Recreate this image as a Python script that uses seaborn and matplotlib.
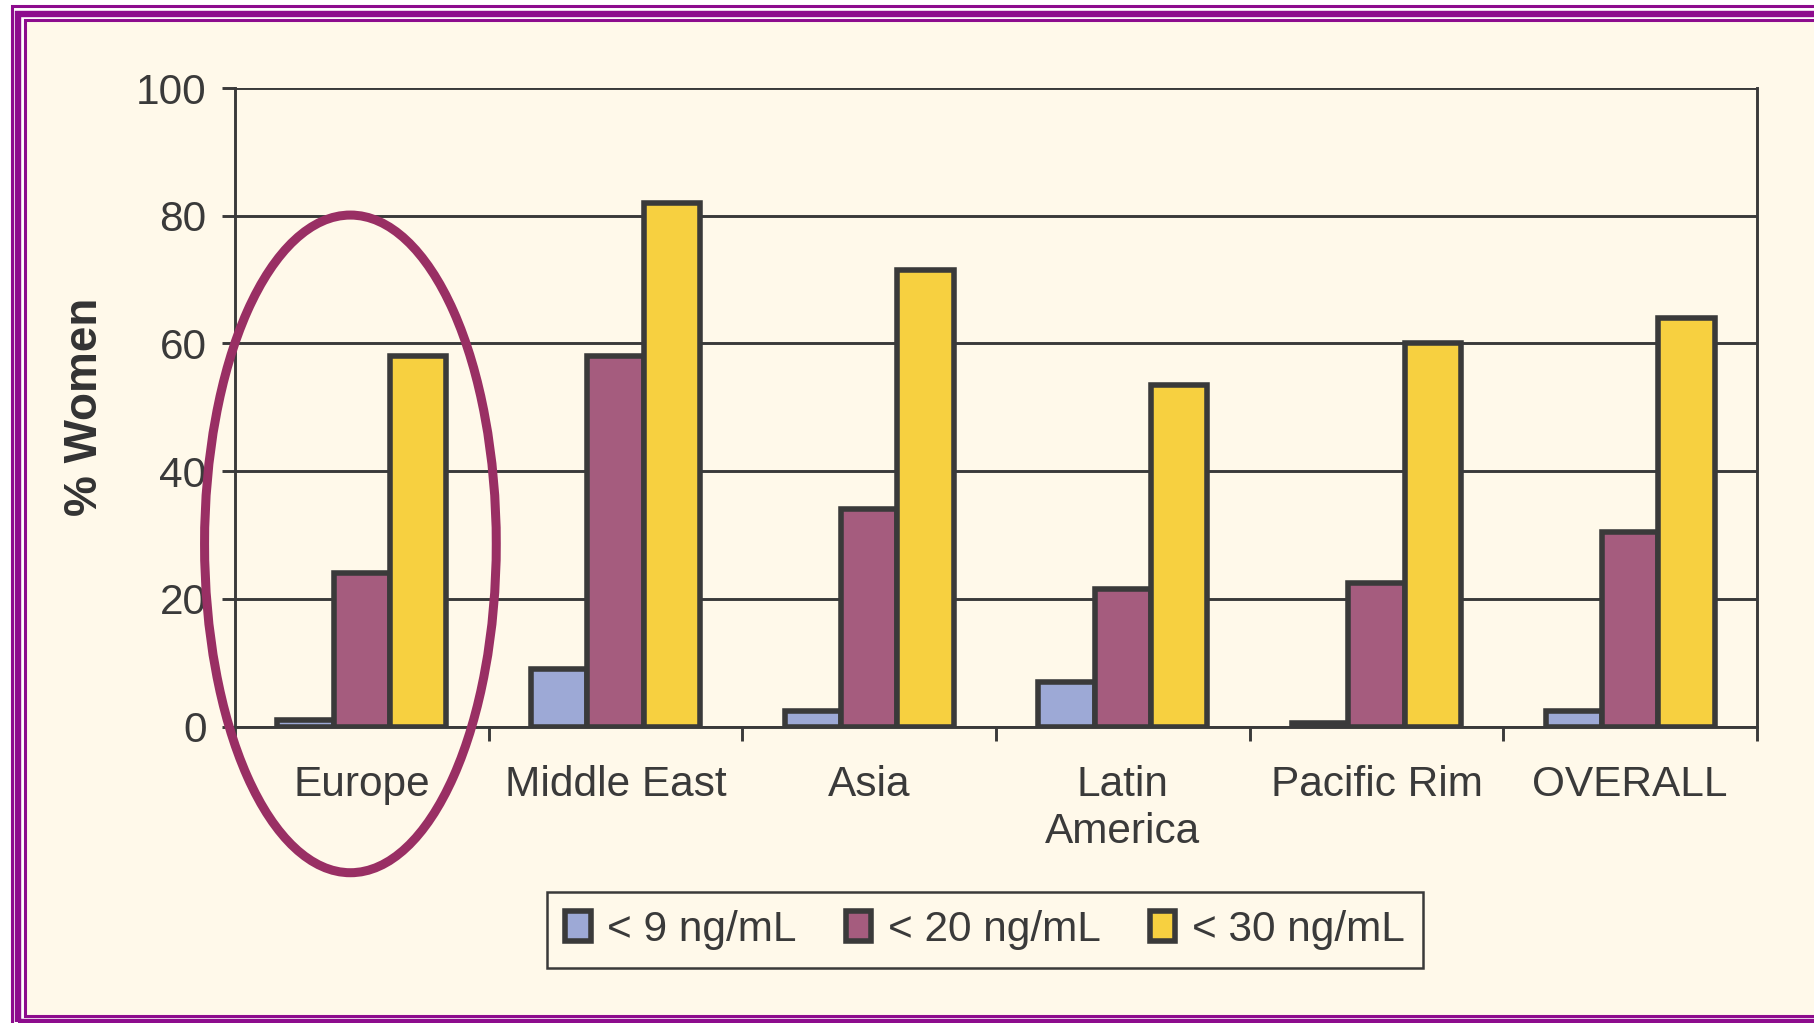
import matplotlib
matplotlib.use("Agg")
import matplotlib.pyplot as plt
from matplotlib.patches import Rectangle, Ellipse
import seaborn as sns
import pandas as pd

# Share of women below each vitamin D threshold, by region
regions = ["Europe", "Middle East", "Asia", "Latin\nAmerica", "Pacific Rim", "OVERALL"]
levels = ["< 9 ng/mL", "< 20 ng/mL", "< 30 ng/mL"]
below_9 = [1, 9, 2.5, 7, 0.5, 2.5]
below_20 = [24, 58, 34, 21.5, 22.5, 30.5]
below_30 = [58, 82, 71.5, 53.5, 60, 64]
yticks = [0, 20, 40, 60, 80, 100]

colors = ["#9DA9D6", "#A55C7E", "#F7D040"]
ink = "#3A3A3A"
cream = "#FFF9EA"
frame = "#8D0C8D"
fs = 30.5

df = pd.DataFrame({
    "region": regions * 3,
    "level": [levels[0]] * 6 + [levels[1]] * 6 + [levels[2]] * 6,
    "pct": below_9 + below_20 + below_30,
})

sns.set_theme(style="white")
plt.rcParams["font.family"] = ["Liberation Sans", "DejaVu Sans"]

W, H = 1814, 1023
fig = plt.figure(figsize=(W / 100, H / 100), dpi=100, facecolor="white")


def px_rect(left, top, right, bottom, lw, fill=None):
    r = Rectangle((left / W, 1 - bottom / H), (right - left) / W, (bottom - top) / H,
                  transform=fig.transFigure, facecolor=fill if fill else "none",
                  edgecolor=frame, linewidth=lw, zorder=0)
    fig.add_artist(r)


# triple decorative frame
px_rect(11.5, 6, 1832, 1032, 2.2)
px_rect(17.5, 13.5, 1826, 1021.5, 4.6)
px_rect(24.5, 20, 1820, 1016, 2.2, fill=cream)

ax = fig.add_axes([235 / W, 1 - 726.5 / H, 1522 / W, 638.5 / H])
ax.set_facecolor("none")

sns.barplot(data=df, x="region", y="pct", hue="level", hue_order=levels,
            palette=colors, saturation=1, width=0.667, gap=0,
            edgecolor=ink, linewidth=4.0, ax=ax, zorder=3)

ax.set_ylim(0, 100)
ax.set_xlim(-0.5, 5.5)
ax.set_yticks(yticks)
ax.set_yticklabels([str(v) for v in yticks])
ax.set_axisbelow(True)
ax.yaxis.grid(True, color=ink, linewidth=2.1)
ax.xaxis.grid(False)

for side in ["left", "bottom", "right"]:
    ax.spines[side].set_visible(True)
    ax.spines[side].set_color(ink)
    ax.spines[side].set_linewidth(2.1)
ax.spines["top"].set_visible(False)

ax.tick_params(axis="y", which="major", left=True, length=9.5, width=2.1,
               color=ink, labelsize=fs, labelcolor=ink, pad=11)
ax.tick_params(axis="x", which="major", bottom=False, length=0,
               labelsize=fs, labelcolor=ink, pad=28)
ax.set_xticks([i - 0.5 for i in range(len(regions) + 1)], minor=True)
ax.tick_params(axis="x", which="minor", bottom=True, length=10, width=2.1, color=ink)
for lab in ax.get_xticklabels():
    lab.set_linespacing(1.2)

ax.set_xlabel("")
ax.set_ylabel("% Women", fontsize=33, fontweight="bold", color="#333333")
ax.yaxis.set_label_coords(-0.084, 0.5)

# highlight ring around the European group
ax.add_patch(Ellipse((-0.045, 28.6), 1.15, 103, transform=ax.transData,
                     fill=False, edgecolor="#992F64", linewidth=6.5,
                     clip_on=False, zorder=10))

handles, labels = ax.get_legend_handles_labels()
ax.get_legend().remove()
leg = fig.legend(handles, labels, loc="center",
                 bbox_to_anchor=(985 / W, 1 - 930 / H), ncol=3, frameon=True,
                 fancybox=False, framealpha=1, facecolor=cream, edgecolor=ink,
                 fontsize=fs, handlelength=0.6, handleheight=0.72,
                 handletextpad=0.4, columnspacing=1.15, borderpad=0.42)
leg.get_frame().set_linewidth(1.8)
for t in leg.get_texts():
    t.set_color(ink)

fig.savefig("out.png", dpi=100, facecolor="white")
